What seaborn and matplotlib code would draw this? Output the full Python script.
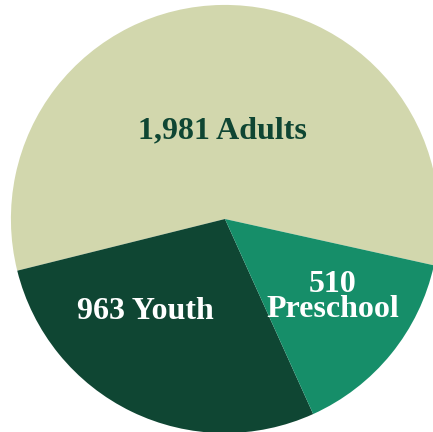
import numpy as np
import matplotlib.pyplot as plt
import seaborn as sns

categories = ["Adults", "Youth", "Preschool"]
counts = [1981, 963, 510]
labels = ["1,981 Adults", "963 Youth", "510\nPreschool"]
colors = ["#d2d7ad", "#0f4633", "#168e69"]
text_colors = ["#0f4633", "white", "white"]

sns.set_style("white")
plt.rcParams['font.family'] = ['Liberation Serif', 'DejaVu Serif']

fig = plt.figure(figsize=(4.33, 4.32), dpi=100)
ax = fig.add_axes([0, 0, 1, 1])

wedges, _ = ax.pie(counts, colors=colors, startangle=-12.5, counterclock=True,
                   radius=1.0, wedgeprops={'linewidth': 0})

# label spots (data units, pie radius = 1)
label_pos = [(-0.01, 0.41), (-0.37, -0.43), (0.505, -0.365)]
for lab, (x, y), c in zip(labels, label_pos, text_colors):
    ax.text(x, y, lab, ha='center', va='center', color=c, fontsize=23,
            fontweight='bold', linespacing=0.85)

ax.set_xlim(-1.051, 0.972)
ax.set_ylim(-0.995, 1.023)
ax.set_aspect('auto')
ax.axis('off')

fig.savefig('out.png', dpi=100)
